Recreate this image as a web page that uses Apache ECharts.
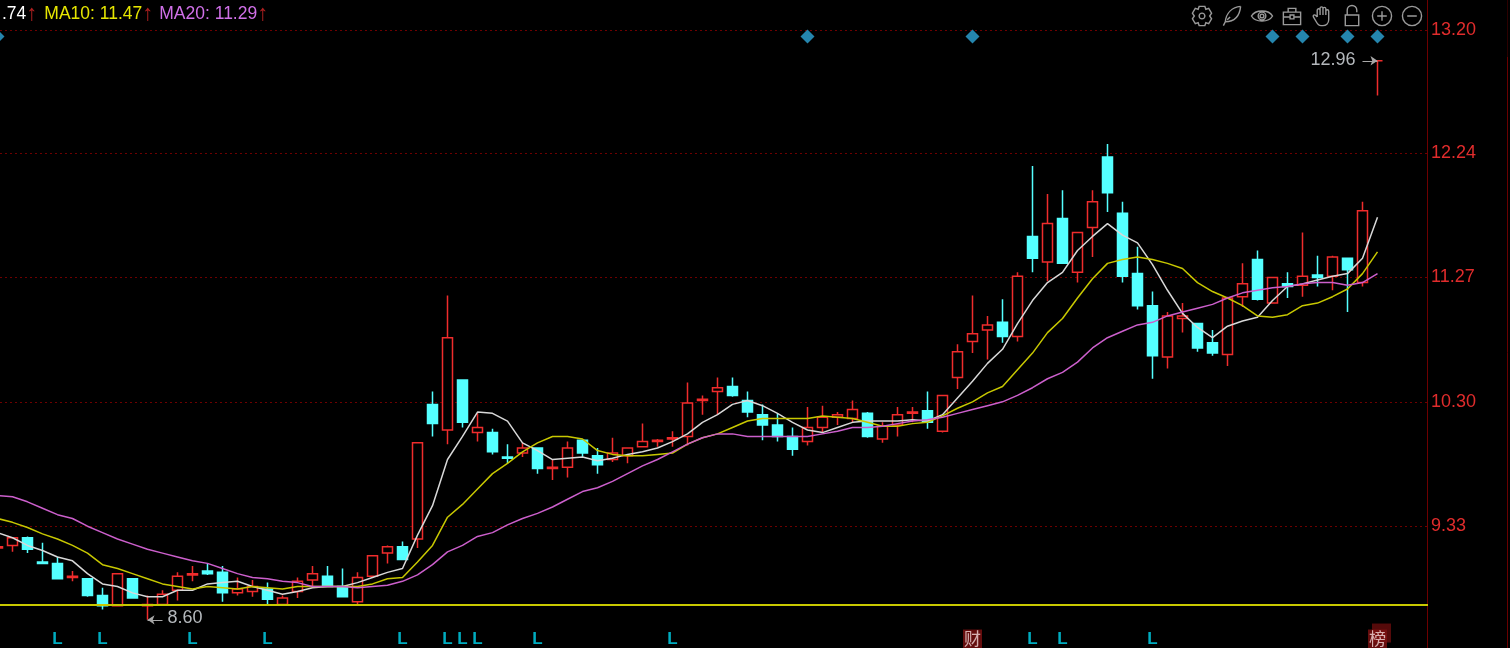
<!DOCTYPE html>
<html>
<head>
<meta charset="utf-8">
<title>K线</title>
<style>
  html, body { margin: 0; padding: 0; background: #000; }
  #kline { width: 1510px; height: 648px; }
</style>
<script src="https://cdn.jsdelivr.net/npm/echarts@6/dist/echarts.min.js"></script>
</head>
<body>
<div id="kline"></div>
<script>
// K线 [open, close, low, high]
const kline = [
  [9.16,9.17,9.13,9.19],[9.18,9.24,9.13,9.24],[9.24,9.15,9.12,9.25],[9.05,9.04,9.04,9.20],[9.04,8.92,8.92,9.09],
  [8.93,8.94,8.90,8.98],[8.92,8.79,8.78,8.92],[8.79,8.71,8.68,8.85],[8.71,8.96,8.71,8.96],[8.92,8.77,8.77,8.92],
  [8.71,8.72,8.60,8.79],[8.72,8.80,8.71,8.83],[8.83,8.94,8.75,8.97],[8.95,8.96,8.90,9.02],[8.98,8.96,8.95,9.04],
  [8.97,8.81,8.74,9.02],[8.81,8.84,8.79,8.93],[8.82,8.86,8.78,8.91],[8.84,8.76,8.72,8.89],[8.72,8.77,8.71,8.79],
  [8.82,8.90,8.77,8.93],[8.91,8.96,8.85,9.02],[8.94,8.86,8.86,9.02],[8.86,8.78,8.78,9.00],[8.74,8.93,8.71,8.97],
  [8.94,9.10,8.94,9.10],[9.12,9.17,9.04,9.18],[9.17,9.07,9.07,9.21],[9.23,9.98,9.16,9.98],[10.28,10.13,10.03,10.38],
  [10.08,10.80,9.97,11.13],[10.47,10.14,10.10,10.47],[10.06,10.10,9.99,10.21],[10.06,9.91,9.89,10.09],[9.87,9.86,9.82,9.97],
  [9.90,9.94,9.87,9.98],[9.94,9.78,9.74,9.94],[9.78,9.79,9.69,9.85],[9.79,9.94,9.71,9.99],[10.00,9.90,9.87,10.00],
  [9.88,9.81,9.74,9.94],[9.85,9.90,9.83,10.02],[9.88,9.94,9.82,9.94],[9.95,9.99,9.95,10.13],[9.99,10.00,9.95,10.01],
  [10.01,10.02,9.95,10.07],[10.03,10.29,9.96,10.45],[10.31,10.32,10.20,10.35],[10.38,10.41,10.20,10.49],[10.42,10.35,10.34,10.49],
  [10.31,10.22,10.18,10.38],[10.20,10.12,10.00,10.28],[10.12,10.03,9.99,10.21],[10.03,9.93,9.88,10.10],[9.99,10.10,9.96,10.26],
  [10.10,10.18,10.06,10.27],[10.18,10.20,10.12,10.22],[10.17,10.24,10.14,10.31],[10.21,10.03,10.02,10.22],[10.01,10.11,9.98,10.14],
  [10.12,10.20,10.03,10.26],[10.21,10.22,10.14,10.26],[10.23,10.14,10.09,10.38],[10.07,10.35,10.06,10.35],[10.49,10.69,10.40,10.75],
  [10.77,10.83,10.68,11.13],[10.86,10.90,10.63,10.97],[10.92,10.81,10.76,11.10],[10.81,11.28,10.77,11.31],[11.59,11.42,11.31,12.14],
  [11.39,11.69,11.24,11.92],[11.73,11.38,11.38,11.95],[11.31,11.62,11.23,11.62],[11.66,11.86,11.43,11.95],[12.21,11.93,11.78,12.31],
  [11.77,11.28,11.23,11.86],[11.30,11.05,11.02,11.51],[11.05,10.66,10.48,11.16],[10.65,10.97,10.56,11.00],[10.95,10.97,10.84,11.07],
  [10.91,10.72,10.69,10.91],[10.76,10.68,10.66,10.86],[10.67,11.11,10.58,11.12],[11.12,11.22,11.04,11.38],[11.41,11.10,11.09,11.48],
  [11.07,11.27,11.07,11.27],[11.22,11.20,11.11,11.31],[11.21,11.28,11.12,11.62],[11.29,11.27,11.20,11.44],[11.28,11.43,11.17,11.44],
  [11.42,11.33,11.00,11.42],[11.23,11.79,11.20,11.86],[12.96,12.96,12.69,12.96]
]
const ma5 = [
  9.28,9.24,9.18,9.14,9.09,9.06,8.96,8.88,8.86,8.81,8.78,8.78,8.83,8.83,8.88,8.89,8.90,8.86,8.83,8.80,
  8.82,8.85,8.86,8.86,8.89,8.93,8.97,9.00,9.26,9.49,9.85,10.03,10.22,10.21,10.15,9.98,9.92,9.85,9.86,9.87,
  9.84,9.86,9.89,9.91,9.94,9.99,10.05,10.14,10.20,10.28,10.31,10.27,10.21,10.14,10.08,10.06,10.10,10.14,10.15,10.15,
  10.15,10.16,10.15,10.20,10.33,10.46,10.60,10.71,10.91,11.09,11.23,11.31,11.48,11.59,11.69,11.60,11.54,11.37,11.17,10.99,
  10.88,10.80,10.89,10.93,10.96,11.09,11.20,11.22,11.25,11.28,11.30,11.42,11.74
]
const ma10 = [
  9.39,9.36,9.32,9.27,9.23,9.18,9.12,9.03,9.00,8.96,8.92,8.88,8.86,8.84,8.86,8.85,8.84,8.86,8.85,8.84,
  8.86,8.86,8.86,8.86,8.86,8.88,8.92,8.93,9.05,9.18,9.40,9.50,9.62,9.74,9.82,9.91,9.98,10.03,10.03,10.01,
  9.92,9.89,9.88,9.88,9.89,9.90,9.97,10.02,10.05,10.10,10.15,10.17,10.17,10.17,10.17,10.19,10.18,10.17,10.14,10.11,
  10.11,10.13,10.14,10.19,10.25,10.30,10.37,10.42,10.55,10.68,10.84,10.95,11.11,11.26,11.38,11.41,11.43,11.41,11.38,11.34,
  11.23,11.16,11.11,11.05,10.97,10.96,10.98,11.05,11.07,11.12,11.18,11.30,11.47
]
const ma20 = [
  9.57,9.56,9.52,9.47,9.42,9.39,9.33,9.28,9.23,9.19,9.15,9.12,9.09,9.06,9.04,9.00,8.96,8.93,8.92,8.90,
  8.89,8.86,8.86,8.86,8.85,8.86,8.87,8.90,8.95,9.03,9.13,9.18,9.25,9.28,9.34,9.39,9.43,9.48,9.54,9.60,
  9.63,9.68,9.74,9.80,9.85,9.91,9.97,10.02,10.05,10.05,10.03,10.03,10.03,10.03,10.03,10.05,10.07,10.10,10.10,10.11,
  10.13,10.15,10.16,10.18,10.21,10.24,10.27,10.30,10.35,10.41,10.48,10.53,10.61,10.72,10.80,10.85,10.90,10.92,10.97,11.00,
  11.03,11.06,11.11,11.15,11.17,11.19,11.20,11.22,11.23,11.23,11.21,11.23,11.30
]
const priceTicks = [13.20, 12.24, 11.27, 10.30, 9.33]
const floorPrice = 8.72
const highMark = [92, 12.96]
const lowMark = [10, 8.60]
const noticeIdx = [0, 54, 65, 85, 87, 90, 92] // 蓝色菱形
const noticePrice = 13.15
const lIdx = [4, 7, 13, 18, 27, 30, 31, 32, 36, 45, 69, 71, 77] // 底部 L 标记
const caiIdx = [65]
const bangIdx = [92]
const markerPrice = 8.45
// 右侧留 3 根空 K 线
const categories = Array.from({ length: kline.length + 3 }, (_, i) => String(i))

const UP = '#f02c2c'
const DOWN = '#54ffff'
const FONT = '"Liberation Sans", Arial, sans-serif'
const GRID_RED = '#6e0000'

// 工具栏图标，bbox 用 0 0 / 24 24 撑开，不然会被拉伸
const box = 'M0 0L0 0M24 24L24 24'
const ring = 'M22 12a10 10 0 1 0-20 0a10 10 0 1 0 20 0z'
const icons = {
  myGear: box + 'M9 2h6l1 3 3-1 3 5-2 3 2 3-3 5-3-1-1 3H9l-1-3-3 1-3-5 2-3-2-3 3-5 3 1zM15 12a3 3 0 1 0-6 0a3 3 0 1 0 6 0z',
  myPen: box + 'M21 2C12 3 6 9 5 18L3 22M21 2C20 12 15 18 5 18M10 13L7 16',
  myEye: box + 'M1 12C5 5 19 5 23 12C19 19 5 19 1 12zM16 12a4 4 0 1 0-8 0a4 4 0 1 0 8 0zM14 12a2 2 0 1 0-4 0a2 2 0 1 0 4 0z',
  myCase: box + 'M3 8h18v13H3zM8 8V4h8v4M3 13h7M14 13h7M10 11h4v4h-4z',
  myHand: box + 'M7 13V6a1.5 1.5 0 0 1 3 0V11M10 11V4a1.5 1.5 0 0 1 3 0V11M13 11V4.5a1.5 1.5 0 0 1 3 0V11M16 11V7a1.5 1.5 0 0 1 3 0V16c0 4-3 6-6 6h-2c-3 0-4-2-5-4L3 13c-.8-1.5 1-3 2.5-1.5L7 13',
  myLock: box + 'M5 11h14v11H5zM7 11V6a5 5 0 0 1 10 0V8',
  myPlus: box + ring + 'M7 12h10M12 7v10',
  myMinus: box + ring + 'M7 12h10'
}
const toolFeature = {}
Object.keys(icons).forEach((k) => {
  toolFeature[k] = { show: true, title: '', icon: 'path://' + icons[k], onclick() {} }
})

function maLine(name, data, color) {
  return {
    name,
    type: 'line',
    data,
    symbol: 'none',
    smooth: false,
    silent: true,
    z: 3,
    lineStyle: { color, width: 1.5 }
  }
}

function marker(idxList, price) {
  return idxList.map((i) => [i, price])
}

function priceFlag(coord, from, distance, dy) {
  // 最高最低价的箭头
  return [
    { coord, symbol: 'arrow', symbolSize: 7, lineStyle: { color: '#a8a8a8', width: 1, type: 'solid' } },
    {
      coord: [from, coord[1]],
      symbol: 'none',
      label: {
        show: true,
        position: 'end',
        formatter: coord[1].toFixed(2),
        color: '#b4b8bc',
        fontFamily: FONT,
        fontSize: 18,
        distance,
        offset: [0, dy]
      }
    }
  ]
}

function flagLabel(text) {
  return {
    show: true,
    position: 'inside',
    formatter: text,
    color: '#f2d8d8',
    fontFamily: '"Noto Sans CJK SC", sans-serif',
    fontSize: 17,
    lineHeight: 19,
    padding: [0, 1],
    backgroundColor: '#7d1010'
  }
}

const titleFont = (color, left) => ({
  color,
  fontSize: 17.5,
  fontFamily: FONT,
  fontWeight: 'normal',
  padding: [0, 0, 0, left]
})

const chart = echarts.init(document.getElementById('kline'))
chart.setOption({
  animation: false,
  backgroundColor: '#000',
  title: {
    left: 2,
    top: 3,
    padding: 0,
    text: '{w|.74}{a|↑}{y|MA10: 11.47}{a|↑}{m|MA20: 11.29}{a|↑}',
    textStyle: {
      rich: {
        w: titleFont('#ffffff', 0),
        y: titleFont('#e6e600', 7),
        m: titleFont('#d070e8', 6),
        a: { color: '#b02020', fontSize: 22, fontFamily: FONT, fontWeight: 'normal' }
      }
    }
  },
  toolbox: {
    right: 84,
    top: 2,
    padding: 0,
    itemSize: 23,
    itemGap: 2,
    iconStyle: { color: 'none', borderColor: '#9a9a9a', borderWidth: 1.4 },
    feature: toolFeature
  },
  grid: { left: -10, right: 80, top: 0, bottom: 0, outerBoundsMode: 'none' },
  xAxis: {
    type: 'category',
    data: categories,
    boundaryGap: true,
    axisLine: { show: false },
    axisTick: { show: false },
    axisLabel: { show: false },
    splitLine: { show: false }
  },
  yAxis: {
    type: 'value',
    position: 'right',
    offset: -3,
    min: 8.38,
    max: 13.434,
    axisLine: { show: true, onZero: false, lineStyle: { color: GRID_RED, width: 1 } },
    axisTick: { show: false, customValues: priceTicks },
    axisLabel: {
      customValues: priceTicks,
      margin: 4,
      padding: [2, 0, 0, 0],
      color: '#e02c2c',
      fontFamily: FONT,
      fontSize: 18,
      formatter: (v) => v.toFixed(2)
    },
    splitLine: { show: true, lineStyle: { color: GRID_RED, width: 1, type: [2, 3] } }
  },
  graphic: [
    { type: 'rect', z: 100, shape: { x: 1428, y: 0, width: 3, height: 648 }, style: { fill: '#000' } },
    { type: 'line', z: 100, shape: { x1: 1507.5, y1: 57, x2: 1507.5, y2: 648 }, style: { stroke: '#6a0000', lineWidth: 1 } },
    { type: 'line', z: 100, shape: { x1: 1507.5, y1: 0, x2: 1507.5, y2: 57 }, style: { stroke: '#2c0000', lineWidth: 1 } }
  ],
  series: [
    {
      name: 'K',
      type: 'candlestick',
      data: kline,
      barWidth: 10,
      silent: true,
      itemStyle: {
        color: '#000',
        color0: DOWN,
        borderColor: UP,
        borderColor0: DOWN,
        borderWidth: 1.5
      },
      markLine: {
        silent: true,
        animation: false,
        precision: 2,
        data: [
          [
            { yAxis: floorPrice, x: 0, symbol: 'none', lineStyle: { color: '#c8c800', width: 2, type: 'solid' }, label: { show: false } },
            { yAxis: floorPrice, x: 1428, symbol: 'none' }
          ],
          priceFlag(highMark, highMark[0] - 1, 7, -1),
          priceFlag(lowMark, lowMark[0] + 1, 5, -2)
        ]
      }
    },
    maLine('MA5', ma5, '#d8d8d8'),
    maLine('MA10', ma10, '#c8c800'),
    maLine('MA20', ma20, '#cc5fcc'),
    {
      name: 'notice',
      type: 'scatter',
      data: marker(noticeIdx, noticePrice),
      symbol: 'diamond',
      symbolSize: 14,
      silent: true,
      itemStyle: { color: '#2ea6d8' }
    },
    {
      name: 'L',
      type: 'scatter',
      data: marker(lIdx, markerPrice),
      symbolSize: 0,
      silent: true,
      label: {
        show: true,
        position: 'inside',
        formatter: 'L',
        color: '#00d8f0',
        fontFamily: FONT,
        fontWeight: 'bold',
        fontSize: 17
      }
    },
    {
      name: 'bang-back',
      type: 'scatter',
      data: marker(bangIdx, markerPrice),
      symbol: 'rect',
      symbolSize: 19,
      symbolOffset: [4, -6],
      silent: true,
      itemStyle: { color: '#6a0c0c' }
    },
    {
      name: 'cai',
      type: 'scatter',
      data: marker(caiIdx, markerPrice),
      symbolSize: 0,
      silent: true,
      z: 4,
      label: flagLabel('财')
    },
    {
      name: 'bang',
      type: 'scatter',
      data: marker(bangIdx, markerPrice),
      symbolSize: 0,
      silent: true,
      z: 4,
      label: flagLabel('榜')
    }
  ]
})

window.addEventListener('resize', () => {
  chart.resize()
})
</script>
</body>
</html>
